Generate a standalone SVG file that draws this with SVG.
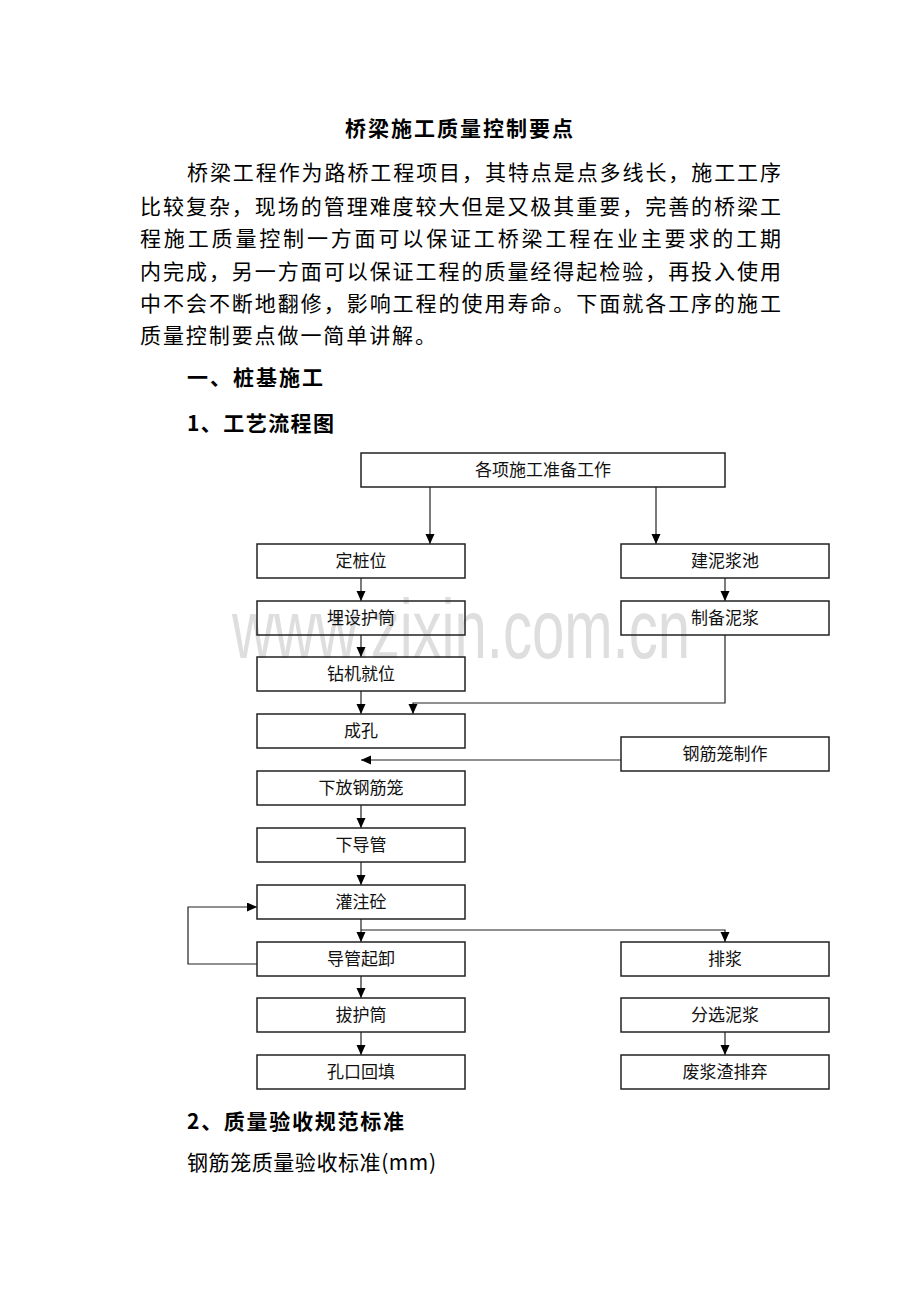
<svg xmlns="http://www.w3.org/2000/svg" width="920" height="1302" viewBox="0 0 920 1302">
<style>
.doc{font-family:"Noto Sans CJK SC","Liberation Serif",serif;font-size:21px;fill:#000}
.bold{font-weight:bold}
.box rect{fill:none;stroke:#222;stroke-width:1.5}
.box text{font-family:"Noto Sans CJK SC","Liberation Sans",sans-serif;font-size:17px;fill:#111;text-anchor:middle}
.conn path{fill:none;stroke:#222;stroke-width:1.2}
</style>
<defs>
<marker id="ah" markerUnits="userSpaceOnUse" markerWidth="10" markerHeight="10" refX="10" refY="4.5" orient="auto">
<path d="M0,0 L10,4.5 L0,9 z" fill="#000"/>
</marker>
</defs>
<rect width="920" height="1302" fill="#fff"/>
<text x="232" y="658" font-family="Liberation Sans, Arial, sans-serif" font-size="84" fill="#dedede" textLength="458" lengthAdjust="spacingAndGlyphs">www.zixin.com.cn</text>

<g id="text">
<text class="doc bold" x="345" y="136" textLength="228" lengthAdjust="spacing">桥梁施工质量控制要点</text>
<text class="doc" x="187" y="180" textLength="594" lengthAdjust="spacing">桥梁工程作为路桥工程项目，其特点是点多线长，施工工序</text>
<text class="doc" x="140" y="214" textLength="641" lengthAdjust="spacing">比较复杂，现场的管理难度较大但是又极其重要，完善的桥梁工</text>
<text class="doc" x="140" y="246" textLength="641" lengthAdjust="spacing">程施工质量控制一方面可以保证工桥梁工程在业主要求的工期</text>
<text class="doc" x="140" y="279" textLength="641" lengthAdjust="spacing">内完成，另一方面可以保证工程的质量经得起检验，再投入使用</text>
<text class="doc" x="140" y="311" textLength="641" lengthAdjust="spacing">中不会不断地翻修，影响工程的使用寿命。下面就各工序的施工</text>
<text class="doc" x="140" y="343" textLength="296" lengthAdjust="spacing">质量控制要点做一简单讲解。</text>
<text class="doc bold" x="187" y="385" textLength="136" lengthAdjust="spacing">一、桩基施工</text>
<text class="doc bold" x="187" y="431" textLength="147" lengthAdjust="spacing">1、工艺流程图</text>
<text class="doc bold" x="187" y="1129" textLength="217" lengthAdjust="spacing">2、质量验收规范标准</text>
<text class="doc" x="187" y="1170" textLength="249" lengthAdjust="spacing">钢筋笼质量验收标准(mm)</text>
</g>

<g id="conn" class="conn">
<path d="M430,487 V544" marker-end="url(#ah)"/>
<path d="M656,487 V544" marker-end="url(#ah)"/>
<path d="M361,578 V601" marker-end="url(#ah)"/>
<path d="M361,635 V657" marker-end="url(#ah)"/>
<path d="M361,691 V714" marker-end="url(#ah)"/>
<path d="M361,805 V828" marker-end="url(#ah)"/>
<path d="M361,862 V885" marker-end="url(#ah)"/>
<path d="M361,919 V942" marker-end="url(#ah)"/>
<path d="M361,976 V998" marker-end="url(#ah)"/>
<path d="M361,1032 V1055" marker-end="url(#ah)"/>
<path d="M725,578 V601" marker-end="url(#ah)"/>
<path d="M725,635 V703 H413 V714" marker-end="url(#ah)"/>
<path d="M621,760 H361" marker-end="url(#ah)"/>
<path d="M361,930 H725 V942" marker-end="url(#ah)"/>
<path d="M257,964 H188 V907 H257" marker-end="url(#ah)"/>
<path d="M725,1032 V1055" marker-end="url(#ah)"/>
</g>

<g id="n0" class="box"><rect x="361" y="453" width="364" height="34"/><text x="543" y="476">各项施工准备工作</text></g>
<g id="n1" class="box"><rect x="257" y="544" width="208" height="34"/><text x="361" y="567">定桩位</text></g>
<g id="n2" class="box"><rect x="257" y="601" width="208" height="34"/><text x="361" y="624">埋设护筒</text></g>
<g id="n3" class="box"><rect x="257" y="657" width="208" height="34"/><text x="361" y="680">钻机就位</text></g>
<g id="n4" class="box"><rect x="257" y="714" width="208" height="34"/><text x="361" y="737">成孔</text></g>
<g id="n5" class="box"><rect x="257" y="771" width="208" height="34"/><text x="361" y="794">下放钢筋笼</text></g>
<g id="n6" class="box"><rect x="257" y="828" width="208" height="34"/><text x="361" y="851">下导管</text></g>
<g id="n7" class="box"><rect x="257" y="885" width="208" height="34"/><text x="361" y="908">灌注砼</text></g>
<g id="n8" class="box"><rect x="257" y="942" width="208" height="34"/><text x="361" y="965">导管起卸</text></g>
<g id="n9" class="box"><rect x="257" y="998" width="208" height="34"/><text x="361" y="1021">拔护筒</text></g>
<g id="n10" class="box"><rect x="257" y="1055" width="208" height="34"/><text x="361" y="1078">孔口回填</text></g>
<g id="n11" class="box"><rect x="621" y="544" width="208" height="34"/><text x="725" y="567">建泥浆池</text></g>
<g id="n12" class="box"><rect x="621" y="601" width="208" height="34"/><text x="725" y="624">制备泥浆</text></g>
<g id="n13" class="box"><rect x="621" y="737" width="208" height="34"/><text x="725" y="760">钢筋笼制作</text></g>
<g id="n14" class="box"><rect x="621" y="942" width="208" height="34"/><text x="725" y="965">排浆</text></g>
<g id="n15" class="box"><rect x="621" y="998" width="208" height="34"/><text x="725" y="1021">分选泥浆</text></g>
<g id="n16" class="box"><rect x="621" y="1055" width="208" height="34"/><text x="725" y="1078">废浆渣排弃</text></g>
</svg>
